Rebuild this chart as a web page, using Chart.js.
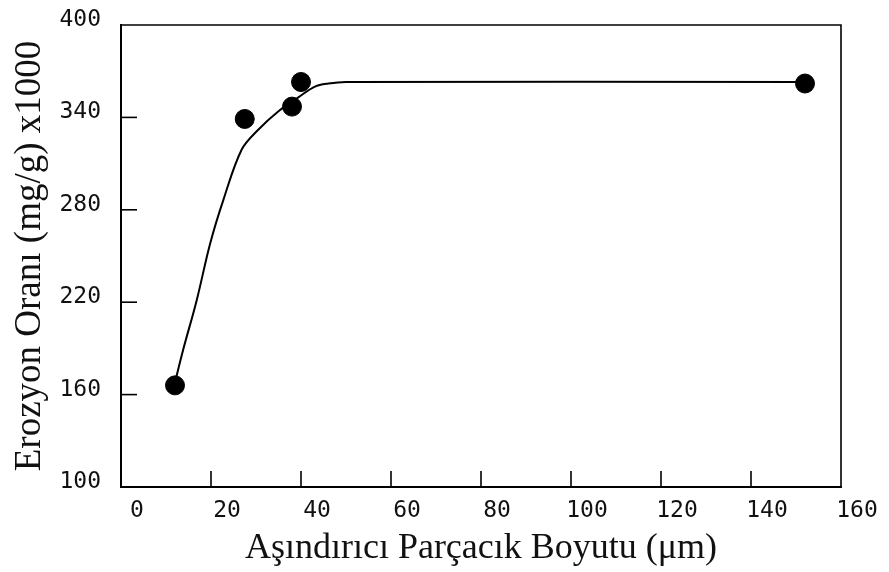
<!DOCTYPE html>
<html>
<head>
<meta charset="utf-8">
<script src="https://cdn.jsdelivr.net/npm/chart.js@4"></script>
<style>
  html, body { margin: 0; padding: 0; background: #fff; }
  #wrap { width: 889px; height: 572px; }
</style>
</head>
<body>
<div id="wrap"><canvas id="chart" width="889" height="572"></canvas></div>
<script>
// measured points
const sizeX = [12, 27.5, 38, 40, 152];
const rateY = [166, 339, 347, 363, 362];

// hand drawn fit curve
const curveX = [12, 13.8, 16.8, 19.8, 22.7, 26.8, 30.5, 35, 39.4, 43.1, 46.1, 50, 152];
const curveY = [168, 189, 221, 258, 286, 319, 332, 344, 353, 360, 362, 363, 363];

const xTicks = [0, 20, 40, 60, 80, 100, 120, 140, 160];
const yTicks = [100, 160, 220, 280, 340, 400];

const xTitle = 'Aşındırıcı Parçacık Boyutu (μm)';
const yTitle = 'Erozyon Oranı (mg/g) x1000';

const tickFont = { family: 'DejaVu Sans Mono', size: 23 };
const titleFont = { family: 'Liberation Serif', size: 36 };

// frame on top/right and small inward ticks
const framePlugin = {
    id: 'frame',
    afterDraw(chart) {
        const { ctx, chartArea: a, scales } = chart;
        ctx.save();
        ctx.strokeStyle = '#000';
        ctx.lineWidth = 1.6;
        ctx.beginPath();
        ctx.moveTo(a.left, a.top);
        ctx.lineTo(a.right, a.top);
        ctx.lineTo(a.right, a.bottom);
        ctx.stroke();
        xTicks.slice(1, -1).forEach(v => {
            const px = scales.x.getPixelForValue(v);
            ctx.beginPath();
            ctx.moveTo(px, a.bottom);
            ctx.lineTo(px, a.bottom - 16);
            ctx.stroke();
        });
        yTicks.slice(1, -1).forEach(v => {
            const py = scales.y.getPixelForValue(v);
            ctx.beginPath();
            ctx.moveTo(a.left, py);
            ctx.lineTo(a.left + 16, py);
            ctx.stroke();
        });
        ctx.restore();
    }
};

const ctx = document.getElementById('chart').getContext('2d');
new Chart(ctx, {
    type: 'scatter',
    data: {
        datasets: [
            {
                type: 'line',
                data: curveX.map((x, i) => ({ x: x, y: curveY[i] })),
                borderColor: '#000',
                borderWidth: 2,
                pointRadius: 0,
                tension: 0.35,
                fill: false
            },
            {
                data: sizeX.map((x, i) => ({ x: x, y: rateY[i] })),
                backgroundColor: '#000',
                borderColor: '#000',
                pointRadius: 9.5,
                pointHoverRadius: 9.5
            }
        ]
    },
    options: {
        responsive: false,
        animation: false,
        events: [],
        layout: { padding: { top: 25, right: 48, left: 0, bottom: 0 } },
        plugins: { legend: { display: false }, tooltip: { enabled: false } },
        scales: {
            x: {
                type: 'linear',
                min: 0, max: 160,
                afterBuildTicks: s => { s.ticks = xTicks.map(v => ({ value: v })); },
                afterFit: s => { s.height = 85; s.paddingLeft = 0; s.paddingRight = 0; },
                grid: { display: false, drawTicks: false },
                border: { display: true, color: '#000', width: 2 },
                ticks: { color: '#111', font: tickFont, padding: 10, labelOffset: 16, maxRotation: 0 },
                title: { display: true, text: xTitle, color: '#111', font: titleFont, padding: { top: 0, bottom: 2 } }
            },
            y: {
                type: 'linear',
                min: 100, max: 400,
                afterBuildTicks: s => { s.ticks = yTicks.map(v => ({ value: v })); },
                afterFit: s => { s.width = 121; s.paddingTop = 0; s.paddingBottom = 0; },
                grid: { display: false, drawTicks: false },
                border: { display: true, color: '#000', width: 2 },
                ticks: { color: '#111', font: tickFont, padding: 20, labelOffset: -5 },
                title: { display: true, text: yTitle, color: '#111', font: { family: 'Liberation Serif', size: 37 }, padding: { top: 8, bottom: 0 } }
            }
        }
    },
    plugins: [framePlugin]
});
</script>
</body>
</html>
